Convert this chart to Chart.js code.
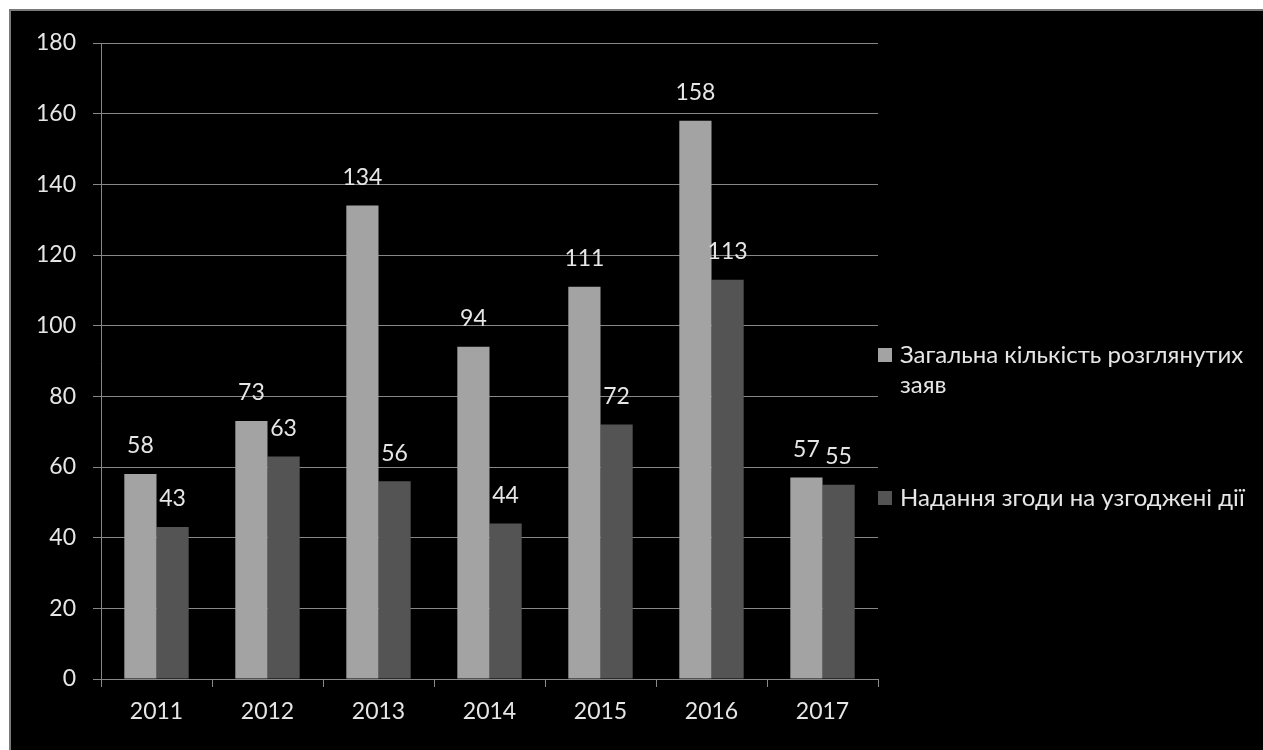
<!DOCTYPE html>
<html>
<head>
<meta charset="utf-8">
<script src="https://cdn.jsdelivr.net/npm/chart.js@4.4.1/dist/chart.umd.min.js"></script>
<style>
  body { margin: 0; background: #ffffff; width: 1263px; height: 750px; overflow: hidden; }
  #frame { position: absolute; left: 9px; top: 9px; width: 1254px; height: 741px; border: 2px solid #7a7a7a; border-right: none; border-bottom: none; background: #000; box-sizing: border-box; }
  #wrap { position: absolute; left: 0; top: 0; width: 1252px; height: 739px; }
</style>
</head>
<body>
<div id="frame"><div id="wrap"><canvas id="chart"></canvas></div></div>
<script>
// Дані діаграми
const years = ['2011', '2012', '2013', '2014', '2015', '2016', '2017'];
const totalApps = [58, 73, 134, 94, 111, 158, 57];
const consentGiven = [43, 63, 56, 44, 72, 113, 55];
const seriesNames = ['Загальна кількість розглянутих заяв', 'Надання згоди на узгоджені дії'];
const yTicks = [0, 20, 40, 60, 80, 100, 120, 140, 160, 180];

const FONT = 'Lato, "Open Sans", sans-serif';
const TEXT = '#e6e6e6';
const LINE = '#878787';

// підписи значень над стовпчиками
const valueLabels = {
    id: 'valueLabels',
    afterDatasetsDraw(chart) {
        const ctx = chart.ctx;
        ctx.save();
        ctx.font = '23px ' + FONT;
        ctx.fillStyle = TEXT;
        ctx.textAlign = 'center';
        ctx.textBaseline = 'middle';
        chart.data.datasets.forEach((ds, i) => {
            chart.getDatasetMeta(i).data.forEach((bar, j) => {
                ctx.fillText(ds.data[j], bar.x, bar.y - 28);
            });
        });
        ctx.restore();
    }
};

// легенда праворуч, з переносом тексту
const sideLegend = {
    id: 'sideLegend',
    afterDraw(chart) {
        const ctx = chart.ctx;
        const x = chart.chartArea.right;
        const itemY = [344, 487];
        const maxW = 360;
        ctx.save();
        ctx.font = '24px ' + FONT;
        ctx.textBaseline = 'middle';
        chart.data.datasets.forEach((ds, i) => {
            ctx.fillStyle = ds.backgroundColor;
            ctx.fillRect(x, itemY[i] - 7, 14, 14);
            ctx.fillStyle = TEXT;
            const words = ds.label.split(' ');
            let line = '';
            let y = itemY[i];
            words.forEach(w => {
                const test = line ? line + ' ' + w : w;
                if (ctx.measureText(test).width > maxW && line) {
                    ctx.fillText(line, x + 22, y);
                    line = w;
                    y += 30;
                } else {
                    line = test;
                }
            });
            ctx.fillText(line, x + 22, y);
        });
        ctx.restore();
    }
};

new Chart(document.getElementById('chart'), {
    type: 'bar',
    data: {
        labels: years,
        datasets: [
            {
                label: seriesNames[0],
                data: totalApps,
                backgroundColor: '#a3a3a3',
                categoryPercentage: 0.58,
                barPercentage: 1.0
            },
            {
                label: seriesNames[1],
                data: consentGiven,
                backgroundColor: '#545454',
                categoryPercentage: 0.58,
                barPercentage: 1.0
            }
        ]
    },
    options: {
        responsive: true,
        maintainAspectRatio: false,
        animation: false,
        layout: { padding: { left: 0, top: 32, right: 385, bottom: 0 } },
        plugins: {
            legend: { display: false },
            tooltip: { enabled: false }
        },
        scales: {
            x: {
                afterFit: (scale) => { scale.height = 71; },
                grid: { drawOnChartArea: false, tickLength: 8, color: LINE, offset: true },
                border: { color: LINE },
                ticks: { color: TEXT, font: { family: FONT, size: 23 }, padding: 11 }
            },
            y: {
                min: 0,
                max: 180,
                afterFit: (scale) => { scale.width = 90; },
                afterBuildTicks: (scale) => { scale.ticks = yTicks.map(v => ({ value: v })); },
                grid: { color: LINE, tickLength: 8 },
                border: { color: LINE },
                ticks: { color: TEXT, font: { family: FONT, size: 23 }, padding: 17 }
            }
        }
    },
    plugins: [valueLabels, sideLegend]
});
</script>
</body>
</html>
